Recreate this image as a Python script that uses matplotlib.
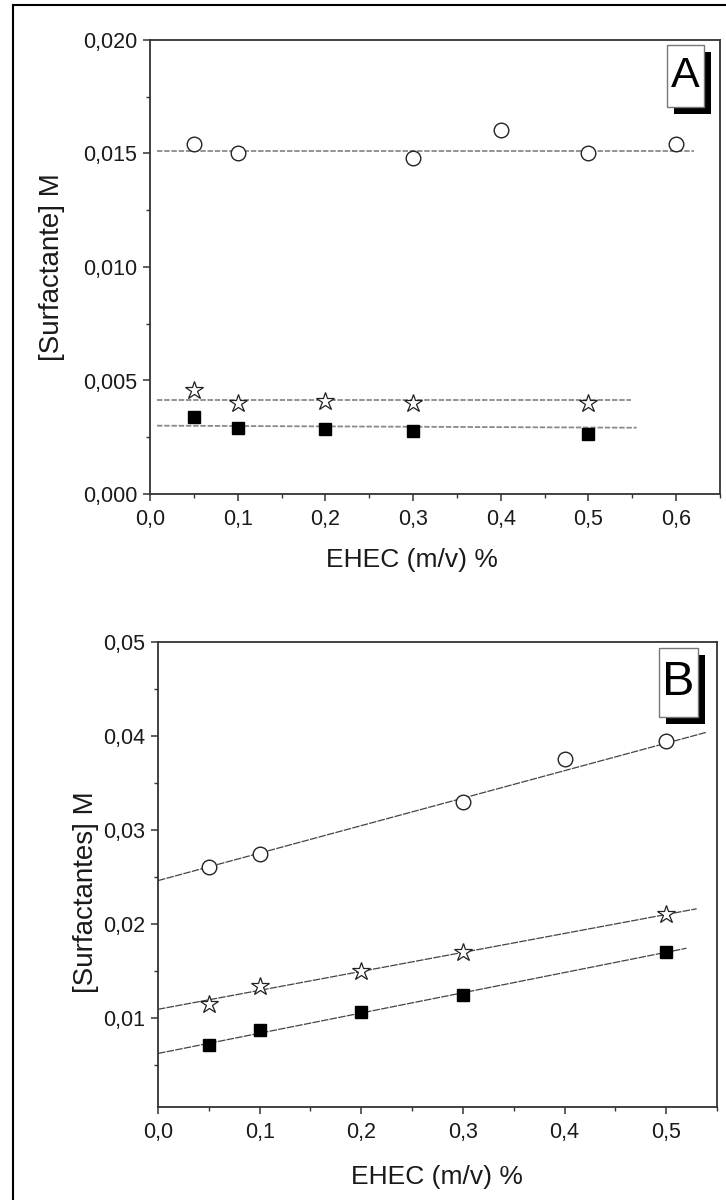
import matplotlib
matplotlib.use("Agg")
import matplotlib.pyplot as plt
from matplotlib.patches import Rectangle
from matplotlib.ticker import MultipleLocator, FuncFormatter
from matplotlib.lines import Line2D

# ---- panel A data ----
a_circle_x = [0.05, 0.1, 0.3, 0.4, 0.5, 0.6]
a_circle_y = [0.01542, 0.01501, 0.01481, 0.01604, 0.01504, 0.01542]
a_star_x = [0.05, 0.1, 0.2, 0.3, 0.5]
a_star_y = [0.00458, 0.00402, 0.00410, 0.00402, 0.00402]
a_square_x = [0.05, 0.1, 0.2, 0.3, 0.5]
a_square_y = [0.00340, 0.00290, 0.00285, 0.00277, 0.00263]
# fitted lines (end points)
a_circle_fit_x = [0.008, 0.62]
a_circle_fit_y = [0.01511, 0.01511]
a_star_fit_x = [0.008, 0.548]
a_star_fit_y = [0.00414, 0.00414]
a_square_fit_x = [0.008, 0.555]
a_square_fit_y = [0.00301, 0.00292]

# ---- panel B data ----
b_circle_x = [0.05, 0.1, 0.3, 0.4, 0.5]
b_circle_y = [0.0261, 0.02745, 0.0330, 0.0375, 0.0395]
b_star_x = [0.05, 0.1, 0.2, 0.3, 0.5]
b_star_y = [0.0115, 0.0134, 0.0150, 0.0170, 0.0210]
b_square_x = [0.05, 0.1, 0.2, 0.3, 0.5]
b_square_y = [0.00705, 0.00865, 0.0106, 0.01245, 0.0170]
b_circle_fit_x = [0.0, 0.54]
b_circle_fit_y = [0.0246, 0.0404]
b_star_fit_x = [0.0, 0.53]
b_star_fit_y = [0.0109, 0.0216]
b_square_fit_x = [0.0, 0.52]
b_square_fit_y = [0.0062, 0.0174]

W, H = 726, 1200
plt.rcParams["font.family"] = ["Liberation Sans", "DejaVu Sans"]
fig = plt.figure(figsize=(W / 100, H / 100), dpi=100)
fig.patch.set_facecolor("white")


def px_rect(x0, y0, x1, y1):
    """pixel box -> [left, bottom, width, height] in figure fraction"""
    return [x0 / W, 1 - y1 / H, (x1 - x0) / W, (y1 - y0) / H]


def comma_fmt(dec):
    return FuncFormatter(lambda v, p: f"{v:.{dec}f}".replace(".", ","))


def style_axes(ax, ydec, ymaj, ymin):
    for s in ax.spines.values():
        s.set_linewidth(1.3)
        s.set_color("#333333")
    ax.xaxis.set_major_locator(MultipleLocator(0.1))
    ax.xaxis.set_minor_locator(MultipleLocator(0.05))
    ax.yaxis.set_major_locator(MultipleLocator(ymaj))
    ax.yaxis.set_minor_locator(MultipleLocator(ymin))
    ax.xaxis.set_major_formatter(comma_fmt(1))
    ax.yaxis.set_major_formatter(comma_fmt(ydec))
    ax.tick_params(which="major", direction="out", length=5, width=1.1,
                   color="#333333", labelsize=15.5, labelcolor="#1a1a1a", pad=4)
    ax.tick_params(axis="x", which="major", pad=6)
    ax.tick_params(which="minor", direction="out", length=3, width=1.0, color="#333333")
    ax.tick_params(top=False, right=False)


def panel_label(text, x0, y0, x1, y1, size):
    sh = 7
    fig.patches.append(Rectangle((x0 / W + sh / W, 1 - (y1 + sh) / H), (x1 - x0) / W,
                                 (y1 - y0) / H, transform=fig.transFigure,
                                 facecolor="black", edgecolor="none", zorder=5))
    fig.patches.append(Rectangle((x0 / W, 1 - y1 / H), (x1 - x0) / W, (y1 - y0) / H,
                                 transform=fig.transFigure, facecolor="white",
                                 edgecolor="#777777", linewidth=1, zorder=6))
    fig.text((x0 + x1) / 2 / W, 1 - (y0 + y1) / 2 / H, text, fontsize=size,
             ha="center", va="center", color="black", zorder=7)


# outer frame (left and top edges visible)
fig.add_artist(Line2D([13 / W, 13 / W], [0, 1 - 5 / H], color="black", lw=1.5,
                      transform=fig.transFigure))
fig.add_artist(Line2D([13 / W, 1], [1 - 5 / H, 1 - 5 / H], color="black", lw=1.5,
                      transform=fig.transFigure))

# ---- panel A ----
axA = fig.add_axes(px_rect(150, 40, 720, 494))
dashA = dict(color="#8a8a8a", lw=1.3, dashes=(3, 1), zorder=1)
axA.plot(a_circle_fit_x, a_circle_fit_y, **dashA)
axA.plot(a_star_fit_x, a_star_fit_y, **dashA)
axA.plot(a_square_fit_x, a_square_fit_y, **dashA)
axA.plot(a_circle_x, a_circle_y, "o", ms=10.5, mfc="white", mec="#222222", mew=1.0, ls="none", zorder=3)
axA.plot(a_star_x, a_star_y, "*", ms=13.5, mfc="white", mec="#222222", mew=0.9, ls="none", zorder=3)
axA.plot(a_square_x, a_square_y, "s", ms=9, mfc="black", mec="black", ls="none", zorder=3)
axA.set_xlim(0, 0.65)
axA.set_ylim(0, 0.020)
style_axes(axA, 3, 0.005, 0.0025)
fig.text(412 / W, 1 - 560 / H, "EHEC (m/v) %", fontsize=19, ha="center", va="center", color="#1a1a1a")
fig.text(52 / W, 1 - 267 / H, "[Surfactante] M", fontsize=20, rotation=90,
         ha="center", va="center", color="#1a1a1a")
panel_label("A", 667, 45, 704, 107, 31)

# ---- panel B ----
axB = fig.add_axes(px_rect(158, 642, 717, 1107))
dashB = dict(color="#444444", lw=0.9, dashes=(6, 1), zorder=1)
axB.plot(b_circle_fit_x, b_circle_fit_y, **dashB)
axB.plot(b_star_fit_x, b_star_fit_y, **dashB)
axB.plot(b_square_fit_x, b_square_fit_y, **dashB)
axB.plot(b_circle_x, b_circle_y, "o", ms=10.5, mfc="white", mec="#222222", mew=1.0, ls="none", zorder=3)
axB.plot(b_star_x, b_star_y, "*", ms=13.5, mfc="white", mec="#222222", mew=0.9, ls="none", zorder=3)
axB.plot(b_square_x, b_square_y, "s", ms=9, mfc="black", mec="black", ls="none", zorder=3)
axB.set_xlim(0, 0.55)
axB.set_ylim(0.0005, 0.05)
style_axes(axB, 2, 0.01, 0.005)
fig.text(437 / W, 1 - 1177 / H, "EHEC (m/v) %", fontsize=19, ha="center", va="center", color="#1a1a1a")
fig.text(86 / W, 1 - 892 / H, "[Surfactantes] M", fontsize=20, rotation=90,
         ha="center", va="center", color="#1a1a1a")
panel_label("B", 659, 648, 698, 717, 35)

fig.savefig("out.png", dpi=100, facecolor="white")
